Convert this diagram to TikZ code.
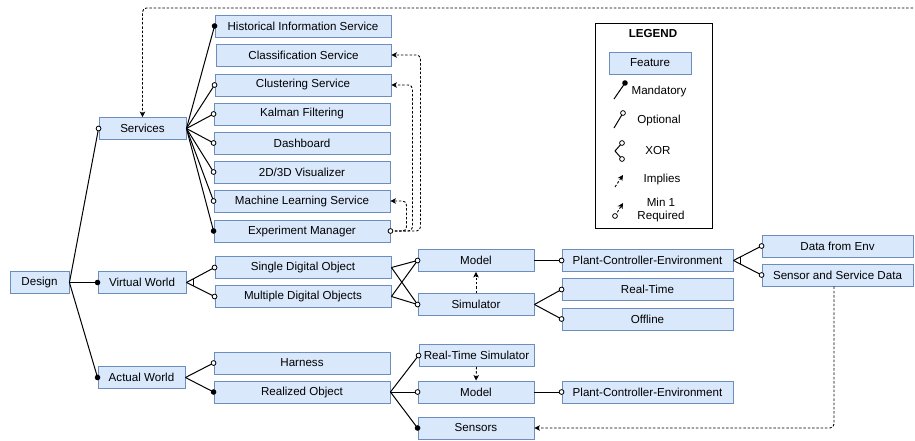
\documentclass[tikz,border=0pt]{standalone}
\usepackage{fontspec}
\setmainfont{Liberation Sans}
\usetikzlibrary{arrows.meta,calc}
\definecolor{featfill}{HTML}{DAE8FC}
\definecolor{featline}{HTML}{6C8EBF}
% end markers of feature links
\newcommand\optend[1]{\draw[line width=0.8pt, fill=white] (#1) circle (2.4pt);}
\newcommand\mandend[1]{\fill (#1) circle (2.8pt);}
\begin{document}
\begin{tikzpicture}[x=1pt,y=-1pt,
  font=\fontsize{11.6}{13.5}\selectfont,
  feat/.style={draw=featline, fill=featfill, line width=0.9pt,
               minimum height=22pt, inner sep=0pt},
  link/.style={line width=1pt},
  implies/.style={line width=0.9pt, dash pattern=on 2.5pt off 1.8pt,
                  -{Stealth[length=5.5pt,width=5.5pt,inset=1.5pt]}, rounded corners=4pt},
  lbl/.style={inner sep=0pt, align=center}
]
\useasboundingbox (0,0) rectangle (915,441);

% ---------- features ----------
\node[feat, minimum width=59pt]  (design)   at (39.5,282.5) {Design};
\node[feat, minimum width=87pt]  (services) at (142.5,128.5) {Services};
\node[feat, minimum width=88pt]  (vw)       at (142,282.5) {Virtual World};
\node[feat, minimum width=87pt]  (aw)       at (141.5,377.5) {Actual World};

\node[feat, minimum width=176pt] (hist)   at (303,26)  {Historical Information Service};
\node[feat, minimum width=175pt] (class)  at (303.5,55) {Classification Service};
\node[feat, minimum width=176pt] (clust)  at (303,85)  {Clustering Service};
\node[feat, minimum width=176pt] (kalman) at (302,114) {Kalman Filtering};
\node[feat, minimum width=176pt] (dash)   at (302,143) {Dashboard};
\node[feat, minimum width=176pt] (vis)    at (302,172) {2D/3D Visualizer};
\node[feat, minimum width=176pt] (ml)     at (302,201) {Machine Learning Service};
\node[feat, minimum width=176pt] (exp)    at (302,231) {Experiment Manager};

\node[feat, minimum width=176pt] (single) at (303,267.5) {Single Digital Object};
\node[feat, minimum width=176pt] (multi)  at (303,296.5) {Multiple Digital Objects};
\node[feat, minimum width=176pt] (harness)  at (302,363) {Harness};
\node[feat, minimum width=176pt] (realized) at (302,392) {Realized Object};

\node[feat, minimum width=116pt] (model)  at (476,260.5) {Model};
\node[feat, minimum width=116pt] (sim)    at (476,304.5) {Simulator};
\node[feat, minimum width=171pt] (pce)    at (647.5,260.5) {Plant-Controller-Environment};
\node[feat, minimum width=171pt] (rt)     at (647.5,289.5) {Real-Time};
\node[feat, minimum width=171pt] (off)    at (647.5,319) {Offline};
\node[feat, minimum width=151pt] (dfe)    at (837.5,246) {Data from Env};
\node[feat, minimum width=151pt] (ssd)    at (837.5,275) {Sensor and Service Data};

\node[feat, minimum width=115pt] (rts)     at (476.5,355.5) {Real-Time Simulator};
\node[feat, minimum width=116pt] (modelb)  at (476,392) {Model};
\node[feat, minimum width=171pt] (pceb)    at (647.5,392) {Plant-Controller-Environment};
\node[feat, minimum width=116pt] (sensors) at (476,428) {Sensors};

% ---------- tree links ----------
\draw[link] (design.east) -- (services.west);
\draw[link] (design.east) -- (vw.west);
\draw[link] (design.east) -- (aw.west);
\optend{services.west}
\mandend{vw.west}
\mandend{aw.west}

\foreach \t in {hist,clust,kalman,dash,vis,ml,exp}
  \draw[link] (services.east) -- (\t.west);
\mandend{hist.west}
\foreach \t in {clust,kalman,dash,vis,ml} {\optend{\t.west}}
\mandend{exp.west}

% virtual world: exclusive choice
\draw[link] (vw.east) -- (single.west);
\draw[link] (vw.east) -- (multi.west);
\draw[link] ($(vw.east)!0.24!(single.west)$) -- ($(vw.east)!0.24!(multi.west)$);
\optend{single.west}
\optend{multi.west}

\draw[link] (single.east) -- (model.west);
\draw[link] (single.east) -- (sim.west);
\draw[link] (multi.east) -- (model.west);
\draw[link] (multi.east) -- (sim.west);
\optend{model.west}
\optend{sim.west}

\draw[link] (model.east) -- (pce.west);
\optend{pce.west}
\draw[link] (sim.east) -- (rt.west);
\draw[link] (sim.east) -- (off.west);
\optend{rt.west}
\optend{off.west}

\draw[link] (pce.east) -- (dfe.west);
\draw[link] (pce.east) -- (ssd.west);
\draw[link] ($(pce.east)!0.24!(dfe.west)$) -- ($(pce.east)!0.24!(ssd.west)$);
\optend{dfe.west}
\optend{ssd.west}

% actual world
\draw[link] (aw.east) -- (harness.west);
\draw[link] (aw.east) -- (realized.west);
\optend{harness.west}
\mandend{realized.west}

\draw[link] (realized.east) -- (rts.west);
\draw[link] (realized.east) -- (modelb.west);
\draw[link] (realized.east) -- (sensors.west);
\optend{rts.west}
\optend{modelb.west}
\mandend{sensors.west}

\draw[link] (modelb.east) -- (pceb.west);
\optend{pceb.west}

% ---------- cross-tree constraints ----------
\coordinate (topend) at (913,8);
\draw[implies] (topend) -| (services.north);
\draw[implies] (exp.east) -- ++(30,0) |- (class.east);
\draw[implies] (exp.east) -- ++(22,0) |- (clust.east);
\draw[implies] (exp.east) -- ++(16,0) |- (ml.east);
\optend{exp.east}
\draw[implies] (sim.north) -- (model.south);
\draw[implies] (rts.south) -- (modelb.north);
\draw[implies] (ssd.south -| 834,0) |- (sensors.east);

% ---------- legend ----------
\node[draw, line width=0.8pt, minimum width=117pt, minimum height=205pt, inner sep=0pt]
  (legend) at (653.5,125.5) {};
\node[lbl, font=\fontsize{11.6}{13.5}\selectfont\bfseries] (lgtitle) at (653,34) {LEGEND};
\node[feat, minimum width=82pt] (lgfeat) at (650,63) {Feature};

\coordinate (lgm1) at (614,99);  \coordinate (lgm2) at (625,83);
\draw[link] (lgm1) -- (lgm2); \mandend{lgm2}
\node[lbl] (lgmand) at (659,92) {Mandatory};

\coordinate (lgo1) at (614,128); \coordinate (lgo2) at (623,113);
\draw[link] (lgo1) -- (lgo2); \optend{lgo2}
\node[lbl] (lgopt) at (659,121) {Optional};

\coordinate (lgx0) at (615,151); \coordinate (lgx1) at (622,143); \coordinate (lgx2) at (622,159);
\draw[link] (lgx1) -- (lgx0) -- (lgx2); \optend{lgx1} \optend{lgx2}
\node[lbl] (lgxor) at (658,151) {XOR};

\coordinate (lgi1) at (615,187); \coordinate (lgi2) at (623,175);
\draw[implies] (lgi1) -- (lgi2);
\node[lbl] (lgimp) at (662,180) {Implies};

\coordinate (lgr1) at (615,216); \coordinate (lgr2) at (623,203);
\draw[implies] (lgr1) -- (lgr2); \optend{lgr1}
\node[lbl] (lgmin) at (661,210) {Min 1\\Required};
\end{tikzpicture}
\end{document}
